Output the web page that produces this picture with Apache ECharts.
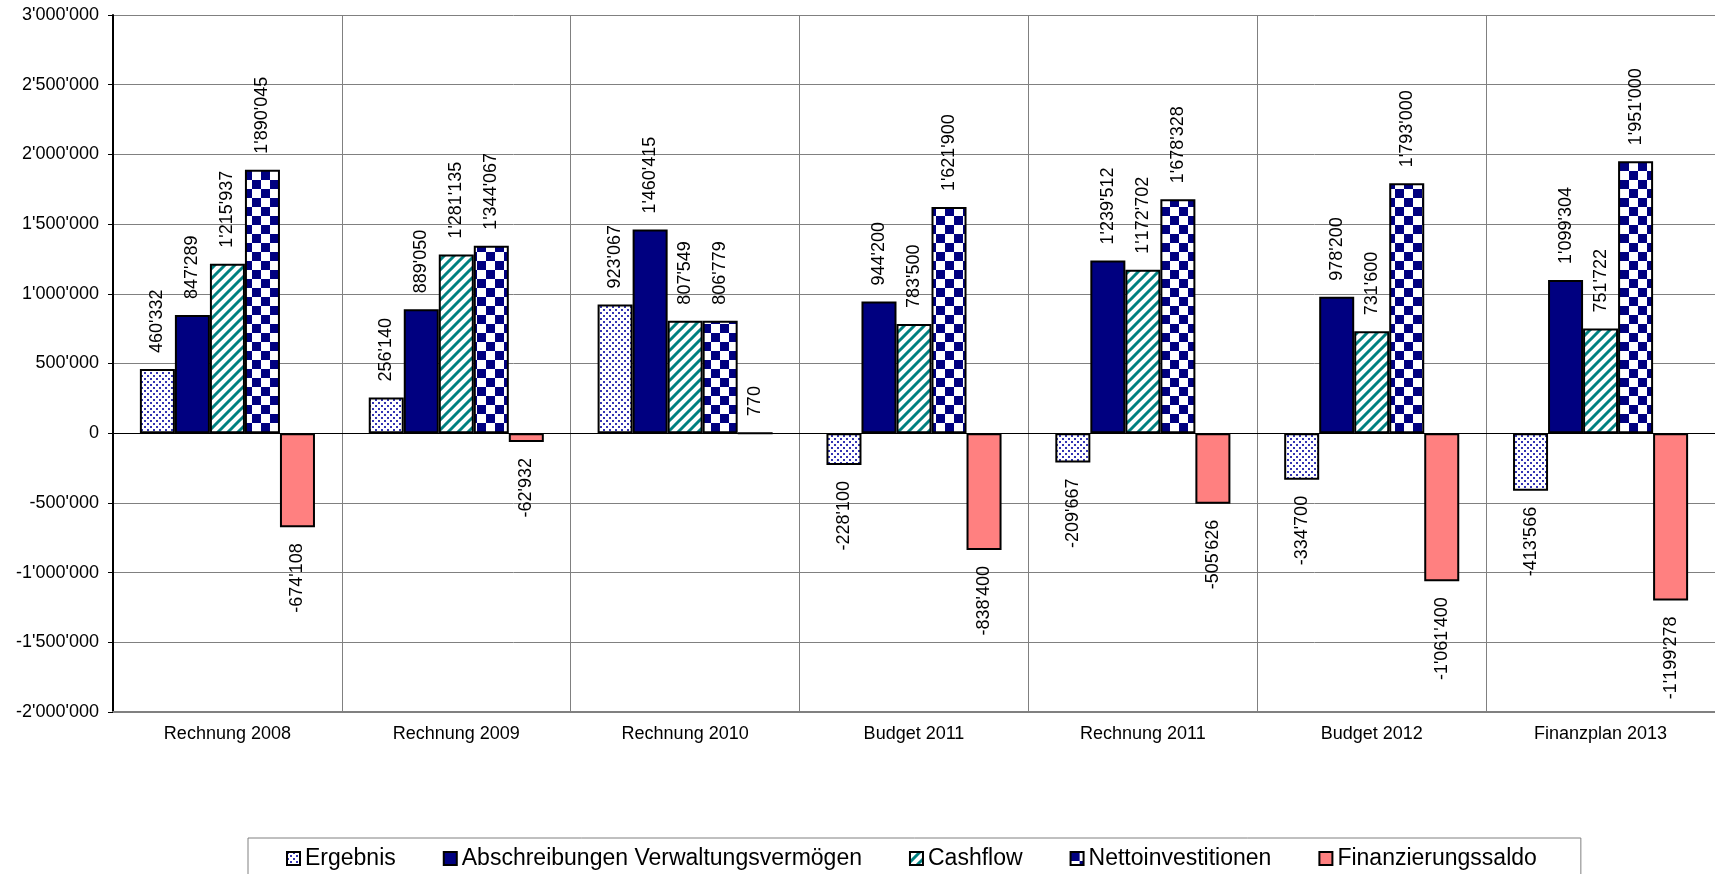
<!DOCTYPE html>
<html>
<head>
<meta charset="utf-8">
<script src="https://cdn.jsdelivr.net/npm/echarts@6/dist/echarts.min.js"></script>
<style>
  html, body { margin: 0; padding: 0; background: #ffffff; }
  #chart { width: 1715px; height: 874px; }
</style>
</head>
<body>
<div id="chart"></div>
<script>
// Categories and series values (CHF)
const categories = ['Rechnung 2008', 'Rechnung 2009', 'Rechnung 2010', 'Budget 2011', 'Rechnung 2011', 'Budget 2012', 'Finanzplan 2013'];
const ergebnis = [460332, 256140, 923067, -228100, -209667, -334700, -413566];
const abschreibungen = [847289, 889050, 1460415, 944200, 1239512, 978200, 1099304];
const cashflow = [1215937, 1281135, 807549, 783500, 1172702, 731600, 751722];
const nettoinvestitionen = [1890045, 1344067, 806779, 1621900, 1678328, 1793000, 1951000];
const finanzierungssaldo = [-674108, -62932, 770, -838400, -505626, -1061400, -1199278];
const seriesNames = ['Ergebnis', 'Abschreibungen Verwaltungsvermögen', 'Cashflow', 'Nettoinvestitionen', 'Finanzierungssaldo'];

const FONT = 'Liberation Sans, Arial, sans-serif';

// Swiss number format: 1'890'045
function fmt(v) {
  const neg = v < 0;
  const s = String(Math.abs(Math.round(v))).replace(/\B(?=(\d{3})+(?!\d))/g, "'");
  return (neg ? '-' : '') + s;
}

// Fill patterns
function tile(size, draw) {
  const c = document.createElement('canvas');
  c.width = size; c.height = size;
  const g = c.getContext('2d');
  g.fillStyle = '#ffffff';
  g.fillRect(0, 0, size, size);
  draw(g, size);
  return { image: c, repeat: 'repeat' };
}
const dotFill = tile(6, (g) => {
  g.fillStyle = '#3434b4';
  g.fillRect(0, 0, 2, 2);
  g.fillRect(3, 3, 2, 2);
});
const stripeFill = tile(10, (g, s) => {
  g.strokeStyle = '#008080';
  g.lineWidth = 3;
  g.beginPath();
  g.moveTo(-s, s * 2); g.lineTo(s * 2, -s);
  g.moveTo(-s, s); g.lineTo(s, -s);
  g.moveTo(0, s * 2); g.lineTo(s * 2, 0);
  g.stroke();
});
const checkerFill = tile(18, (g) => {
  g.fillStyle = '#000080';
  g.fillRect(0, 0, 9, 9);
  g.fillRect(9, 9, 9, 9);
});
const fills = [dotFill, '#000080', stripeFill, checkerFill, '#ff8080'];
const values = [ergebnis, abschreibungen, cashflow, nettoinvestitionen, finanzierungssaldo];

function makeSeries(i) {
  const s = {
    name: seriesNames[i],
    type: 'bar',
    barGap: '0%',
    barCategoryGap: '23.5%',
    itemStyle: { color: fills[i], borderColor: '#000000', borderWidth: 2 },
    emphasis: { disabled: true },
    label: {
      show: true,
      rotate: 90,
      distance: 16,
      verticalAlign: 'middle',
      fontFamily: FONT,
      fontSize: 18,
      color: '#000000',
      formatter: (p) => fmt(p.value)
    },
    data: values[i].map((v) => ({
      value: v,
      label: { position: v < 0 ? 'bottom' : 'top', align: v < 0 ? 'right' : 'left' }
    }))
  };
  if (i === 0) {
    // zero baseline across the plot
    s.markLine = {
      silent: true,
      symbol: 'none',
      label: { show: false },
      lineStyle: { color: '#000000', width: 1, type: 'solid' },
      data: [{ yAxis: 0 }]
    };
  }
  return s;
}

const chart = echarts.init(document.getElementById('chart'), null, { renderer: 'canvas' });
chart.setOption({
  animation: false,
  backgroundColor: '#ffffff',
  textStyle: { fontFamily: FONT },
  grid: { left: 113, right: -7, top: 15, bottom: 162, containLabel: false },
  legend: {
    left: 248,
    top: 838,
    padding: [9, 44, 20, 38],
    borderColor: '#808080',
    borderWidth: 1,
    itemGap: 47,
    itemWidth: 13,
    itemHeight: 13,
    icon: 'rect',
    itemStyle: { borderColor: '#000000', borderWidth: 2 },
    textStyle: { fontFamily: FONT, fontSize: 23, color: '#000000' },
    data: seriesNames
  },
  xAxis: {
    type: 'category',
    data: categories,
    axisLine: { onZero: false, lineStyle: { color: '#808080', width: 2 } },
    axisTick: { show: false },
    splitLine: { show: true, interval: 0, lineStyle: { color: '#808080', width: 1 } },
    axisLabel: { interval: 0, margin: 13, fontFamily: FONT, fontSize: 18, color: '#000000' }
  },
  yAxis: {
    type: 'value',
    min: -2000000,
    max: 3000000,
    interval: 500000,
    axisLine: { show: true, lineStyle: { color: '#000000', width: 2 } },
    axisTick: { show: true, length: 5, lineStyle: { color: '#000000' } },
    splitLine: { show: true, lineStyle: { color: '#808080', width: 1 } },
    axisLabel: { margin: 14, fontFamily: FONT, fontSize: 18, color: '#000000', formatter: fmt }
  },
  series: [0, 1, 2, 3, 4].map(makeSeries)
});
</script>
</body>
</html>
